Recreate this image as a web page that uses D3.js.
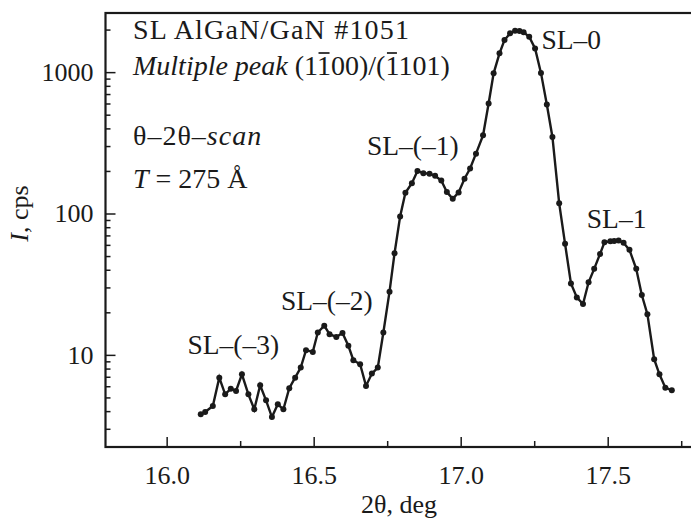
<!DOCTYPE html>
<html>
<head>
<meta charset="utf-8">
<script src="https://cdn.jsdelivr.net/npm/d3@7"></script>
<style>
  body { margin: 0; background: #fff; }
  svg text { font-family: "Liberation Serif", "Times New Roman", Times, serif; fill: #1a1a1a; }
</style>
</head>
<body>
<div id="chart"></div>
<script>
// 2theta (deg) and intensity (cps)
var theta = [16.116, 16.131, 16.157, 16.179, 16.199, 16.218, 16.236, 16.256, 16.278, 16.298,
  16.318, 16.338, 16.358, 16.378, 16.397, 16.417, 16.437, 16.456, 16.474, 16.497,
  16.514, 16.536, 16.554, 16.577, 16.598, 16.618, 16.635, 16.658, 16.678, 16.698,
  16.718, 16.737, 16.758, 16.775, 16.794, 16.812, 16.834, 16.853, 16.873, 16.894,
  16.913, 16.934, 16.953, 16.973, 16.993, 17.013, 17.032, 17.052, 17.076, 17.095,
  17.112, 17.132, 17.149, 17.168, 17.185, 17.200, 17.214, 17.233, 17.253, 17.273,
  17.293, 17.312, 17.335, 17.355, 17.375, 17.395, 17.416, 17.435, 17.454, 17.474,
  17.489, 17.509, 17.522, 17.537, 17.554, 17.574, 17.597, 17.616, 17.635, 17.658,
  17.676, 17.696, 17.718];
var counts = [3.80, 3.95, 4.35, 6.90, 5.26, 5.77, 5.56, 7.29, 5.26, 4.12,
  6.10, 4.77, 3.63, 4.47, 4.12, 5.81, 6.90, 8.13, 10.8, 10.5,
  14.4, 16.1, 14.0, 13.4, 14.3, 11.6, 9.17, 8.59, 6.03, 7.37,
  8.13, 14.4, 28.0, 52.3, 95.3, 140, 164, 200, 193, 191,
  185, 171, 142, 127, 141, 176, 208, 265, 357, 600,
  980, 1358, 1688, 1881, 1963, 1954, 1913, 1780, 1472, 988,
  590, 348, 118, 61, 32.0, 25.5, 22.9, 32.6, 40.6, 51.8,
  62.6, 63.6, 64.0, 64.4, 62.0, 55.3, 40.6, 26.5, 19.4, 9.32,
  7.29, 5.86, 5.62];

var xMajor = [16.0, 16.5, 17.0, 17.5];
var xMinor = [16.25, 16.75, 17.25, 17.75];
var yMajor = [10, 100, 1000];
var yMinor = [3, 4, 5, 6, 7, 8, 9, 20, 30, 40, 50, 60, 70, 80, 90, 200, 300, 400, 500, 600, 700, 800, 900, 2000];

var peakLabels = ["SL\u2013(\u20133)", "SL\u2013(\u20132)", "SL\u2013(\u20131)", "SL\u20130", "SL\u20131"];
var peakLabelAt = [[16.071, 10.2], [16.389, 20.8], [16.681, 258], [17.275, 1455], [17.429, 79.6]];

var fs = "26px", fsLabel = "27.5px", fsInfo = "28px";

var margin = {top: 13, left: 105.5, bottom: 72},
    width = 591,
    height = 519 - margin.top - margin.bottom;

var svg = d3.select("#chart")
  .append("svg")
    .attr("width", 691)
    .attr("height", 519)
  .append("g")
    .attr("transform", "translate(" + margin.left + "," + margin.top + ")");

var x = d3.scaleLinear()
    .domain([15.792, 17.802])
    .range([0, width]);

var y = d3.scaleLog()
    .domain([2.23, 2620])
    .range([height, 0]);

// ticks point into the plot
svg.append("g")
    .attr("transform", "translate(0," + height + ")")
    .call(d3.axisBottom(x).tickValues(xMajor).tickSize(-10).tickPadding(19).tickFormat(d3.format(".1f")));
svg.append("g")
    .attr("transform", "translate(0," + height + ")")
    .call(d3.axisBottom(x).tickValues(xMinor).tickSize(-6).tickFormat(""));
svg.append("g")
    .call(d3.axisLeft(y).tickValues(yMajor).tickSize(-10).tickPadding(12).tickFormat(d3.format("d")));
svg.append("g")
    .call(d3.axisLeft(y).tickValues(yMinor).tickSize(-5).tickFormat(""));

svg.selectAll(".domain").remove();
svg.selectAll(".tick line").attr("stroke", "#1a1a1a").attr("stroke-width", 1.5);
svg.selectAll("g").attr("font-family", null).attr("font-size", null);
svg.selectAll(".tick text")
    .style("font-size", fs)
    .attr("fill", "#1a1a1a");

svg.append("rect")
    .attr("width", width)
    .attr("height", height)
    .attr("fill", "none")
    .attr("stroke", "#1a1a1a")
    .attr("stroke-width", 2.2);

var line = d3.line()
    .x(function (d, i) { return x(theta[i]); })
    .y(function (d) { return y(d); });

svg.append("path")
    .datum(counts)
    .attr("d", line)
    .attr("fill", "none")
    .attr("stroke", "#1a1a1a")
    .attr("stroke-width", 2.4);

svg.selectAll("circle")
    .data(counts)
    .enter()
    .append("circle")
      .attr("cx", function (d, i) { return x(theta[i]); })
      .attr("cy", function (d) { return y(d); })
      .attr("r", 3)
      .attr("fill", "#1a1a1a");

svg.selectAll(".peak")
    .data(peakLabels)
    .enter()
    .append("text")
      .attr("class", "peak")
      .attr("x", function (d, i) { return x(peakLabelAt[i][0]); })
      .attr("y", function (d, i) { return y(peakLabelAt[i][1]); })
      .style("font-size", fsLabel)
      .text(function (d) { return d; });

// info block
var info = svg.append("g").attr("transform", "translate(27.5,0)").style("font-size", fsInfo);
info.append("text").attr("y", 25.5).style("letter-spacing", "1.2px").text("SL AlGaN/GaN #1051");

var l2 = info.append("text").attr("y", 62);
l2.append("tspan").style("font-style", "italic").text("Multiple peak ");
l2.append("tspan").text("(1100)/(1101)");
// overbars on the barred indices
var str = l2.text();
var firstBar = str.indexOf("(1100)") + 2;
var secondBar = str.indexOf("(1101)") + 1;
[firstBar, secondBar].forEach(function (k) {
  var a = l2.node().getStartPositionOfChar(k).x;
  var b = l2.node().getEndPositionOfChar(k).x;
  info.append("line")
    .attr("x1", a + 1.5).attr("x2", b - 1.5)
    .attr("y1", 62 - 22).attr("y2", 62 - 22)
    .attr("stroke", "#1a1a1a").attr("stroke-width", 1.7);
});

var l3 = info.append("text").attr("y", 132).style("letter-spacing", "1px");
l3.append("tspan").text("\u03b8\u20132\u03b8\u2013");
l3.append("tspan").style("font-style", "italic").text("scan");

var l4 = info.append("text").attr("y", 175);
l4.append("tspan").style("font-style", "italic").text("T");
l4.append("tspan").text(" = 275 \u00c5");

svg.append("text")
    .attr("x", x(16.79))
    .attr("y", height + 66)
    .attr("text-anchor", "middle")
    .style("font-size", fs)
    .text("2\u03b8, deg");

var yl = svg.append("text")
    .attr("transform", "translate(-78," + y(100) + ") rotate(-90)")
    .attr("text-anchor", "middle")
    .style("font-size", fs);
yl.append("tspan").style("font-style", "italic").text("I");
yl.append("tspan").text(", cps");
</script>
</body>
</html>
